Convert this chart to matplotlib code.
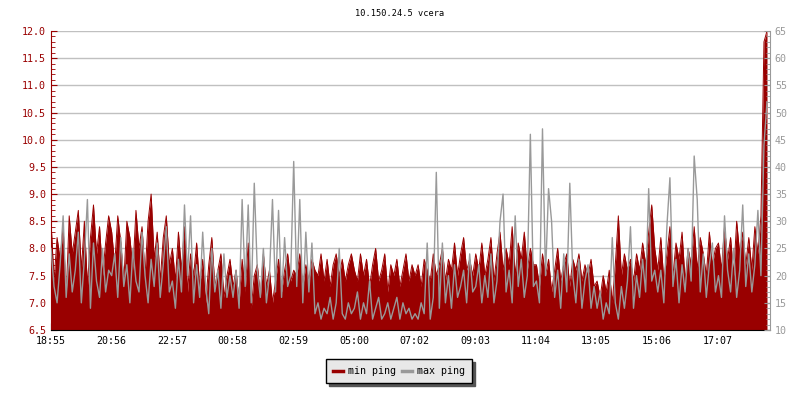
import numpy as np
import matplotlib.pyplot as plt
from matplotlib.lines import Line2D
from matplotlib.ticker import MultipleLocator

# min ping (left axis, ms) sampled about every 6 minutes from 18:55
min_ping = [
    8.5, 7.4, 8.2, 7.8, 8.4, 7.1, 8.6, 7.9, 8.3, 8.7, 7.6, 8.5, 7.3, 8.2, 8.8, 7.9, 8.4, 7.5, 8.1, 8.6,
    8.3, 7.7, 8.6, 8.1, 7.4, 8.5, 8.2, 7.6, 8.7, 8.0, 8.4, 7.5, 8.5, 9.0, 7.8, 8.3, 7.4, 8.2, 8.6, 7.7,
    8.0, 7.4, 8.3, 7.6, 8.4, 7.2, 7.9, 7.5, 8.1, 7.3, 7.8, 7.0, 7.7, 8.2, 7.3, 7.6, 7.9, 7.1, 7.5, 7.8,
    7.3, 7.6, 7.0, 7.8, 7.2, 8.1, 6.9, 7.5, 7.7, 7.1, 7.9, 7.3, 7.6, 7.0, 7.4, 7.8, 7.2, 7.6, 7.9, 7.4,
    7.6, 7.5, 7.9, 7.3, 7.7, 7.4, 7.8, 7.6, 7.5, 7.9, 7.4, 7.8, 7.3, 7.7, 7.9, 7.5, 7.8, 7.4, 7.7, 7.9,
    7.6, 7.4, 7.9, 7.5, 7.8, 7.3, 7.7, 8.0, 7.4, 7.6, 7.9, 7.2, 7.7, 7.5, 7.8, 7.3, 7.6, 7.9, 7.4, 7.7,
    7.5, 7.7, 7.3, 7.8, 7.6, 7.4, 7.9, 7.5, 7.7, 8.0, 7.4, 7.8, 7.6, 8.1, 7.5, 7.9, 8.2, 7.6, 7.8, 7.5,
    7.9, 7.6, 8.1, 7.5, 7.8, 8.2, 7.4, 7.9, 8.3, 7.6, 8.0, 7.7, 8.4, 7.5, 8.1, 7.8, 8.3, 7.6, 8.0, 7.7,
    7.7, 7.3, 7.9, 7.5, 7.8, 7.2, 7.6, 8.0, 7.4, 7.7, 7.9, 7.3, 7.8, 7.6, 7.9, 7.4, 7.7, 7.5, 7.8, 7.3,
    7.4, 7.1, 7.5, 7.2, 7.6, 7.0, 7.7, 8.6, 7.5, 7.9, 7.6, 7.8, 7.4, 7.9, 7.6, 8.1, 7.7, 8.3, 8.8, 8.0,
    7.6, 8.2, 7.4, 7.9, 8.4, 7.5, 8.1, 7.8, 8.3, 7.4, 8.0, 7.7, 8.4, 7.6, 8.2, 7.9, 7.5, 8.3, 7.7, 8.0,
    8.1, 7.6, 8.4, 7.8, 8.2, 7.5, 8.5, 7.9, 8.3, 7.7, 8.2, 7.6, 8.4, 7.9, 8.6, 11.8, 12.3,
]

# max ping (right axis, ms)
max_ping = [
    25, 18, 15, 22, 31, 16, 24, 17, 21, 28, 15, 23, 34, 14, 26, 19, 16, 25, 17, 21,
    20, 24, 16, 27, 18, 22, 15, 25, 19, 17, 28, 20, 15, 23, 18, 26, 16, 22, 29, 17,
    19, 14, 23, 17, 33, 20, 31, 15, 22, 16, 28, 18, 13, 25, 17, 21, 14, 24, 16, 20,
    16, 21, 14, 34, 18, 33, 15, 37, 21, 16, 25, 15, 20, 34, 17, 32, 16, 27, 18, 20,
    41, 18, 34, 15, 28, 17, 26, 13, 15, 12, 14, 13, 16, 12, 15, 25, 13, 12, 15, 13,
    14, 17, 12, 15, 13, 19, 12, 14, 16, 12, 13, 15, 12, 14, 16, 12, 15, 13, 14, 12,
    13, 12, 15, 13, 26, 12, 16, 39, 14, 26, 15, 20, 14, 22, 16, 18, 21, 15, 24, 17,
    18, 22, 15, 20, 16, 24, 15, 19, 30, 35, 17, 21, 15, 31, 18, 23, 16, 20, 46, 18,
    19, 15, 47, 20, 36, 30, 16, 21, 14, 24, 17, 37, 20, 15, 23, 14, 19, 22, 14, 18,
    14, 17, 12, 15, 13, 27, 15, 12, 18, 14, 19, 29, 14, 20, 16, 23, 17, 36, 19, 21,
    17, 21, 15, 29, 38, 18, 23, 15, 22, 17, 25, 19, 42, 34, 17, 24, 16, 22, 26, 17,
    20, 16, 31, 21, 17, 25, 16, 21, 33, 18, 24, 17, 22, 32, 20, 44, 52,
]

tick_labels = ["18:55", "20:56", "22:57", "00:58", "02:59", "05:00",
               "07:02", "09:03", "11:04", "13:05", "15:06", "17:07"]

RED = "#990000"
GRAY = "#999999"
FONT = "DejaVu Sans Mono"
FS = 7.2

minutes = np.linspace(0, 1430, len(min_ping))
red_top = np.minimum(min_ping, 12.0)

fig = plt.figure(figsize=(8, 4), dpi=100)
ax = fig.add_axes([51 / 800, 70 / 400, 719 / 800, 299 / 400])
ax2 = ax.twinx()

# red area for min ping, gray line for max ping drawn on top
ax.fill_between(minutes, 6.5, red_top, color=RED, lw=0)
ax.plot(minutes, red_top, color=RED, lw=0.7)
ax2.plot(minutes, max_ping, color=GRAY, lw=1.0)

ax.set_xlim(0, 1436)
ax.set_ylim(6.5, 12.0)
ax2.set_ylim(10, 65)

ax.set_axisbelow(True)
ax.grid(axis="y", color="#c0c0c0", lw=1)
ax.set_xticks(np.arange(len(tick_labels)) * 121)
ax.set_xticklabels(tick_labels)
ax.yaxis.set_major_locator(MultipleLocator(0.5))
ax.yaxis.set_minor_locator(MultipleLocator(0.1))
ax.yaxis.set_major_formatter(plt.FormatStrFormatter("%.1f"))
ax2.yaxis.set_major_locator(MultipleLocator(5))
ax2.yaxis.set_minor_locator(MultipleLocator(1))

for a in (ax, ax2):
    a.spines["top"].set_visible(False)
ax.spines["right"].set_visible(False)
ax.spines["left"].set_color(RED)
ax.spines["bottom"].set_color("black")
ax2.spines["left"].set_visible(False)
ax2.spines["bottom"].set_visible(False)
ax2.spines["right"].set_color(GRAY)

ax.tick_params(axis="y", which="both", direction="in", colors=RED, labelsize=FS)
ax.tick_params(axis="y", which="major", length=4)
ax.tick_params(axis="y", which="minor", length=3)
ax.tick_params(axis="x", direction="in", length=5, labelsize=FS, pad=4)
ax2.tick_params(axis="y", which="both", direction="in", colors=GRAY, labelsize=FS)
ax2.tick_params(axis="y", which="major", length=4)
ax2.tick_params(axis="y", which="minor", length=3)
for lab in ax.get_xticklabels() + ax.get_yticklabels() + ax2.get_yticklabels():
    lab.set_family(FONT)

fig.text(0.5, 1 - 13 / 400, "10.150.24.5 vcera", ha="center", va="center",
         family=FONT, fontsize=6.2)

handles = [Line2D([], [], color=RED, lw=2.5), Line2D([], [], color=GRAY, lw=2.5)]
leg = fig.legend(handles, ["min ping", "max ping"], loc="center",
                 bbox_to_anchor=(399 / 800, 1 - 371 / 400), ncol=2,
                 prop={"family": FONT, "size": FS}, frameon=True, fancybox=False,
                 shadow={"color": "#555555", "alpha": 1}, edgecolor="black",
                 facecolor="#e8e8e8", framealpha=1, handlelength=1.0,
                 handletextpad=0.5, columnspacing=0.6, borderpad=0.7,
                 borderaxespad=0)
leg.get_frame().set_linewidth(1)

fig.savefig("out.png", dpi=100)
